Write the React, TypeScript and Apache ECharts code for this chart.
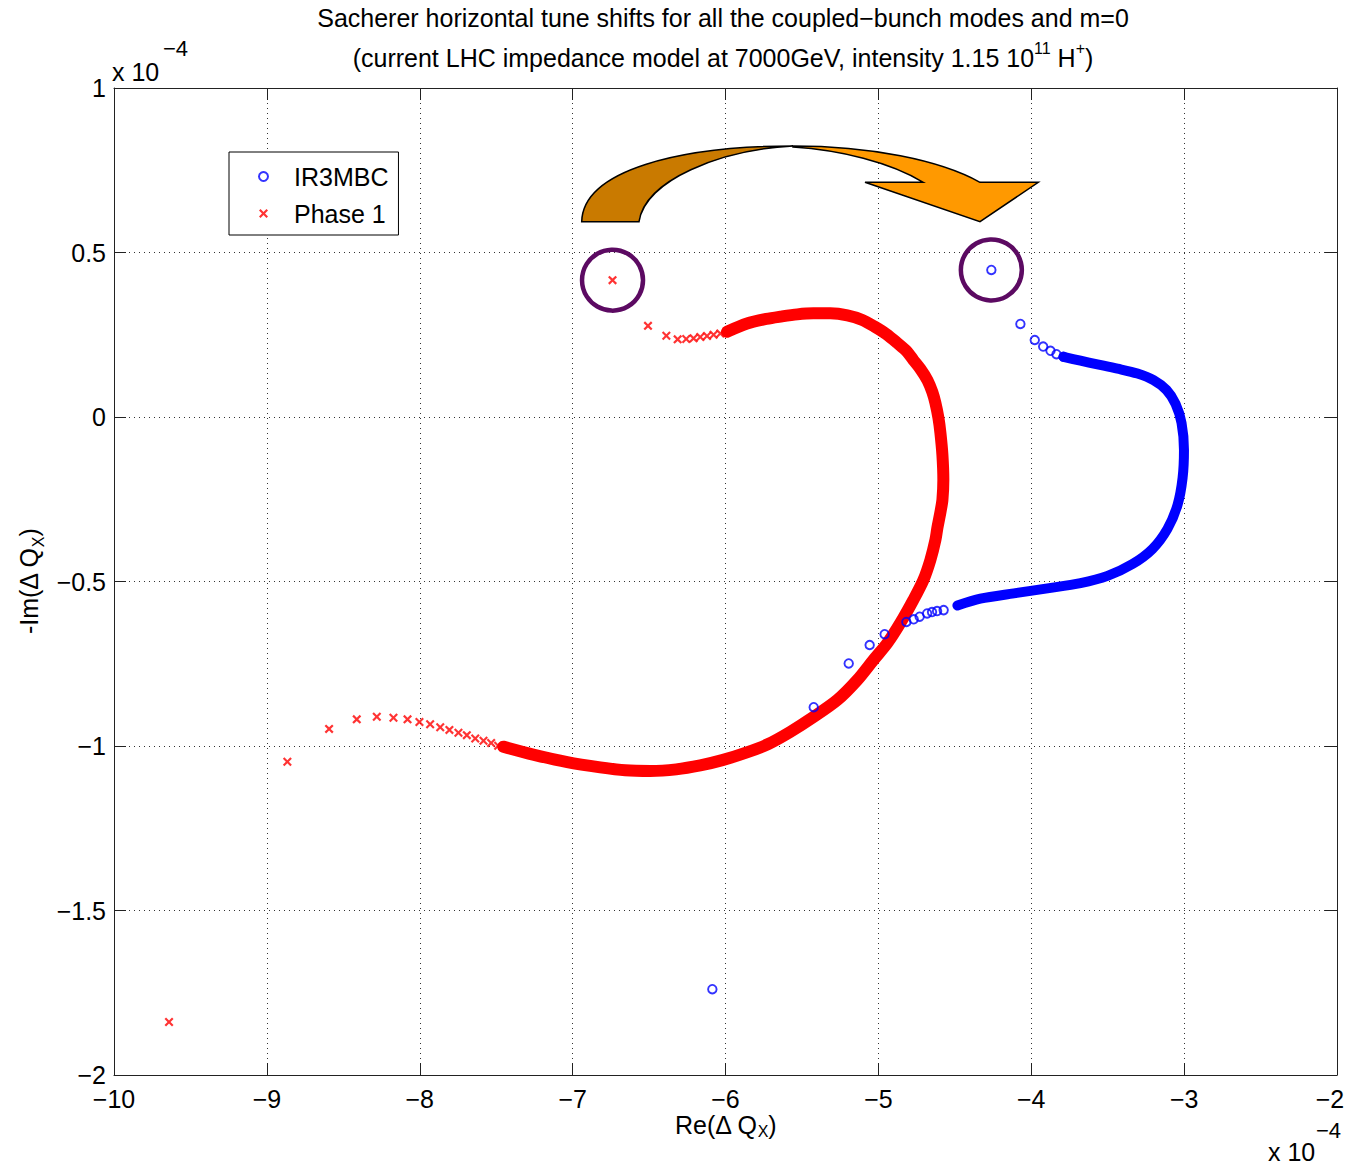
import React, { useEffect, useRef } from "react";
import * as echarts from "echarts";

// ---------- data (units of 1e-4) ----------
const xTicks = [-10, -9, -8, -7, -6, -5, -4, -3, -2];
const yTicks = [-2, -1.5, -1, -0.5, 0, 0.5, 1];

// isolated / sparse Phase 1 modes (crosses)
const phase1Sparse: [number, number][] = [
  [-9.64, -1.839], [-8.866, -1.048], [-8.593, -0.948], [-8.412, -0.919], [-8.281, -0.911],
  [-8.172, -0.914], [-8.08, -0.919], [-8.002, -0.927], [-7.932, -0.934], [-7.866, -0.943],
  [-7.806, -0.951], [-7.747, -0.96], [-7.692, -0.967], [-7.637, -0.977], [-7.583, -0.984],
  [-7.533, -0.991], [-7.487, -0.999],
  [-6.739, 0.416], [-6.507, 0.277], [-6.387, 0.247], [-6.313, 0.236], [-6.257, 0.237],
  [-6.209, 0.239], [-6.165, 0.243], [-6.121, 0.246], [-6.078, 0.25], [-6.034, 0.254],
];
// densely packed Phase 1 modes (continuous band)
const phase1Band: [number, number][] = [
  [-5.99, 0.259], [-5.859, 0.284], [-5.733, 0.298], [-5.641, 0.305], [-5.53, 0.312],
  [-5.425, 0.315], [-5.314, 0.315], [-5.203, 0.309], [-5.105, 0.295], [-5.026, 0.275],
  [-4.948, 0.252], [-4.876, 0.225], [-4.817, 0.201], [-4.771, 0.173], [-4.725, 0.146],
  [-4.679, 0.112], [-4.647, 0.076], [-4.627, 0.043], [-4.607, -0.003], [-4.594, -0.049],
  [-4.581, -0.116], [-4.575, -0.191], [-4.581, -0.252], [-4.594, -0.289], [-4.614, -0.337],
  [-4.627, -0.374], [-4.66, -0.435], [-4.705, -0.495], [-4.771, -0.556], [-4.856, -0.626],
  [-4.941, -0.687], [-5.033, -0.739], [-5.137, -0.799], [-5.268, -0.86], [-5.425, -0.912],
  [-5.576, -0.957], [-5.72, -0.994], [-5.87, -1.021], [-6.021, -1.043], [-6.165, -1.059],
  [-6.322, -1.071], [-6.492, -1.076], [-6.656, -1.074], [-6.819, -1.065], [-7.035, -1.049],
  [-7.258, -1.026], [-7.454, -1.002],
];
// isolated / sparse IR3MBC modes (circles)
const ir3Sparse: [number, number][] = [
  [-4.261, 0.447], [-4.071, 0.283], [-3.977, 0.234], [-3.922, 0.214], [-3.874, 0.201],
  [-3.835, 0.191], [-3.789, 0.183],
  [-4.573, -0.587], [-4.616, -0.59], [-4.649, -0.593], [-4.681, -0.597], [-4.73, -0.607],
  [-4.769, -0.615], [-4.817, -0.623], [-4.959, -0.66], [-5.057, -0.693], [-5.194, -0.749],
  [-5.423, -0.882], [-6.086, -1.739],
];
// densely packed IR3MBC modes (continuous band)
const ir3Band: [number, number][] = [
  [-3.789, 0.183], [-3.678, 0.171], [-3.567, 0.16], [-3.436, 0.147], [-3.305, 0.132],
  [-3.2, 0.112], [-3.115, 0.082], [-3.056, 0.04], [-3.017, -0.018], [-3.001, -0.1],
  [-3.01, -0.185], [-3.043, -0.267], [-3.109, -0.34], [-3.207, -0.401], [-3.338, -0.447],
  [-3.501, -0.483], [-3.678, -0.505], [-3.894, -0.521], [-4.114, -0.536], [-4.333, -0.552],
  [-4.483, -0.573],
];
// the two highlighted modes
const circledPhase1: [number, number] = [-6.739, 0.416];
const circledIr3: [number, number] = [-4.261, 0.447];

const TITLE_1 = "Sacherer horizontal tune shifts for all the coupled\u2212bunch modes and m=0";
const TITLE_2 = "(current LHC impedance model at 7000GeV, intensity 1.15 10{sup|11} H{sup|+})";

// ---------- styling ----------
const FONT = "'Liberation Sans', Arial, Helvetica, sans-serif";
const FS = 25;
const CROSS =
  "path://M0,1.7L1.7,0L5,3.3L8.3,0L10,1.7L6.7,5L10,8.3L8.3,10L5,6.7L1.7,10L0,8.3L3.3,5Z";
const ARROW_BACK = "M581.7,221.7 C583,170 680,146 793,146 C720,150 645,180 639,221.7 Z";
const ARROW_FRONT =
  "M793,146 C870,146 940,160 980,182.3 L1038.3,182.3 L980,221.7 L865,182.3 L923.3,182.3 C890,162 840,150 793,147 Z";

echarts.graphic.registerShape("arrowBack", echarts.graphic.extendPath(ARROW_BACK, {}));
echarts.graphic.registerShape("arrowFront", echarts.graphic.extendPath(ARROW_FRONT, {}));

const fmt = (v: number) => (v < 0 ? "\u2212" + String(Math.abs(v)) : String(v));

const axisCommon = {
  type: "value" as const,
  axisLine: { show: true, onZero: false, lineStyle: { color: "#222", width: 1 } },
  axisTick: { show: true, inside: true, length: 12, lineStyle: { color: "#222" } },
};

const subRich = { sub: { fontSize: 16, fontFamily: FONT, color: "#000", lineHeight: 12, verticalAlign: "bottom" } };

export default function App() {
  const ref = useRef<HTMLDivElement>(null);
  useEffect(() => {
    if (!ref.current) return;
    const chart = echarts.init(ref.current, undefined, { renderer: "svg" });
    const purpleRing = {
      symbol: "circle",
      symbolSize: 61,
      silent: true,
      label: { show: false },
      itemStyle: { color: "rgba(0,0,0,0)", borderColor: "#5c0a62", borderWidth: 4.5 },
    };
    chart.setOption({
      animation: false,
      backgroundColor: "#fff",
      textStyle: { fontFamily: FONT },
      grid: { left: 114, right: 8, top: 88, bottom: 90, containLabel: false, outerBoundsMode: "none" },
      legend: {
        data: ["IR3MBC", "Phase 1"],
        orient: "vertical",
        left: 229,
        top: 152,
        padding: [12, 10, 9, 29],
        itemWidth: 9,
        itemHeight: 9,
        itemGap: 12,
        backgroundColor: "#fff",
        borderColor: "#000",
        borderWidth: 1,
        borderRadius: 0,
        selectedMode: false,
        textStyle: { fontSize: FS, fontFamily: FONT, color: "#000", padding: [0, 0, 0, 21] },
      },
      xAxis: [
        {
          ...axisCommon,
          min: -10,
          max: -2,
          interval: 1,
          position: "bottom",
          name: "Re(\u0394 Q{sub|X})",
          nameLocation: "middle",
          nameGap: 36,
          nameMoveOverlap: false,
          nameTextStyle: { fontSize: FS, fontFamily: FONT, color: "#000", lineHeight: 28, rich: subRich },
          axisLabel: {
            fontSize: FS,
            fontFamily: FONT,
            color: "#000",
            margin: 13,
            lineHeight: 22,
            formatter: fmt,
            showMaxLabel: false,
          },
          splitLine: { show: true, lineStyle: { color: "#333", type: [1, 4], width: 1 } },
        },
        {
          ...axisCommon,
          min: -10,
          max: -2,
          interval: 1,
          position: "top",
          axisLabel: { show: false },
          splitLine: { show: false },
        },
      ],
      yAxis: [
        {
          ...axisCommon,
          min: -2,
          max: 1,
          interval: 0.5,
          position: "left",
          name: "-Im(\u0394 Q{sub|X})",
          nameLocation: "middle",
          nameRotate: 90,
          nameGap: 68,
          nameMoveOverlap: false,
          nameTextStyle: { fontSize: FS, fontFamily: FONT, color: "#000", lineHeight: 34, rich: subRich },
          axisLabel: { fontSize: FS, fontFamily: FONT, color: "#000", margin: 8, formatter: fmt },
          splitLine: { show: true, lineStyle: { color: "#333", type: [1, 4], width: 1 } },
        },
        {
          ...axisCommon,
          min: -2,
          max: 1,
          interval: 0.5,
          position: "right",
          axisLabel: { show: false },
          splitLine: { show: false },
        },
      ],
      series: [
        {
          type: "line",
          name: "Phase 1 band",
          data: phase1Band,
          smooth: 0.3,
          symbol: "none",
          silent: true,
          z: 2,
          lineStyle: { color: "#ff0000", width: 12, cap: "round", join: "round" },
        },
        {
          type: "scatter",
          name: "Phase 1",
          data: phase1Sparse,
          symbol: CROSS,
          symbolSize: 9,
          z: 3,
          itemStyle: { color: "#ff0000" },
          markPoint: { ...purpleRing, data: [{ coord: circledPhase1 }] },
        },
        {
          type: "line",
          name: "IR3MBC band",
          data: ir3Band,
          smooth: 0.3,
          symbol: "none",
          silent: true,
          z: 4,
          lineStyle: { color: "#0000ff", width: 10, cap: "round", join: "round" },
        },
        {
          type: "scatter",
          name: "IR3MBC",
          data: ir3Sparse,
          symbol: "circle",
          symbolSize: 8.5,
          z: 5,
          itemStyle: { color: "rgba(0,0,0,0)", borderColor: "#0000ff", borderWidth: 1.9 },
          markPoint: { ...purpleRing, data: [{ coord: circledIr3 }] },
        },
      ],
      graphic: [
        {
          type: "text",
          x: 723,
          y: 18,
          style: { text: TITLE_1, fontSize: FS, fontFamily: FONT, fill: "#000", align: "center", verticalAlign: "middle" },
        },
        {
          type: "text",
          x: 723,
          y: 58,
          style: {
            text: TITLE_2,
            fontSize: FS,
            fontFamily: FONT,
            fill: "#000",
            align: "center",
            verticalAlign: "middle",
            lineHeight: 36,
            rich: { sup: { fontSize: 16, fontFamily: FONT, fill: "#000", lineHeight: 12, verticalAlign: "top" } },
          },
        },
        // last x tick label, nudged inside the page as in the reference
        {
          type: "text",
          x: 1330,
          y: 1088,
          style: {
            text: fmt(xTicks[xTicks.length - 1]),
            fontSize: FS,
            fontFamily: FONT,
            fill: "#000",
            align: "center",
            verticalAlign: "top",
            lineHeight: 22,
          },
        },
        { type: "text", x: 112, y: 72, style: { text: "x 10", fontSize: FS, fontFamily: FONT, fill: "#000", align: "left", verticalAlign: "middle" } },
        { type: "text", x: 163, y: 48, style: { text: "\u22124", fontSize: 22, fontFamily: FONT, fill: "#000", align: "left", verticalAlign: "middle" } },
        { type: "text", x: 1268, y: 1152, style: { text: "x 10", fontSize: FS, fontFamily: FONT, fill: "#000", align: "left", verticalAlign: "middle" } },
        { type: "text", x: 1316, y: 1130, style: { text: "\u22124", fontSize: 22, fontFamily: FONT, fill: "#000", align: "left", verticalAlign: "middle" } },
        { type: "arrowBack", x: 0, y: 0, z: 50, style: { fill: "#c97a00", stroke: "#000", lineWidth: 1.5 } },
        { type: "arrowFront", x: 0, y: 0, z: 51, style: { fill: "#ff9900", stroke: "#000", lineWidth: 1.5 } },
      ],
    });
    return () => chart.dispose();
  }, []);
  return (
    <div
      ref={ref}
      style={{ position: "absolute", left: 0, top: 0, width: 1345, height: 1165, background: "#fff" }}
    />
  );
}
